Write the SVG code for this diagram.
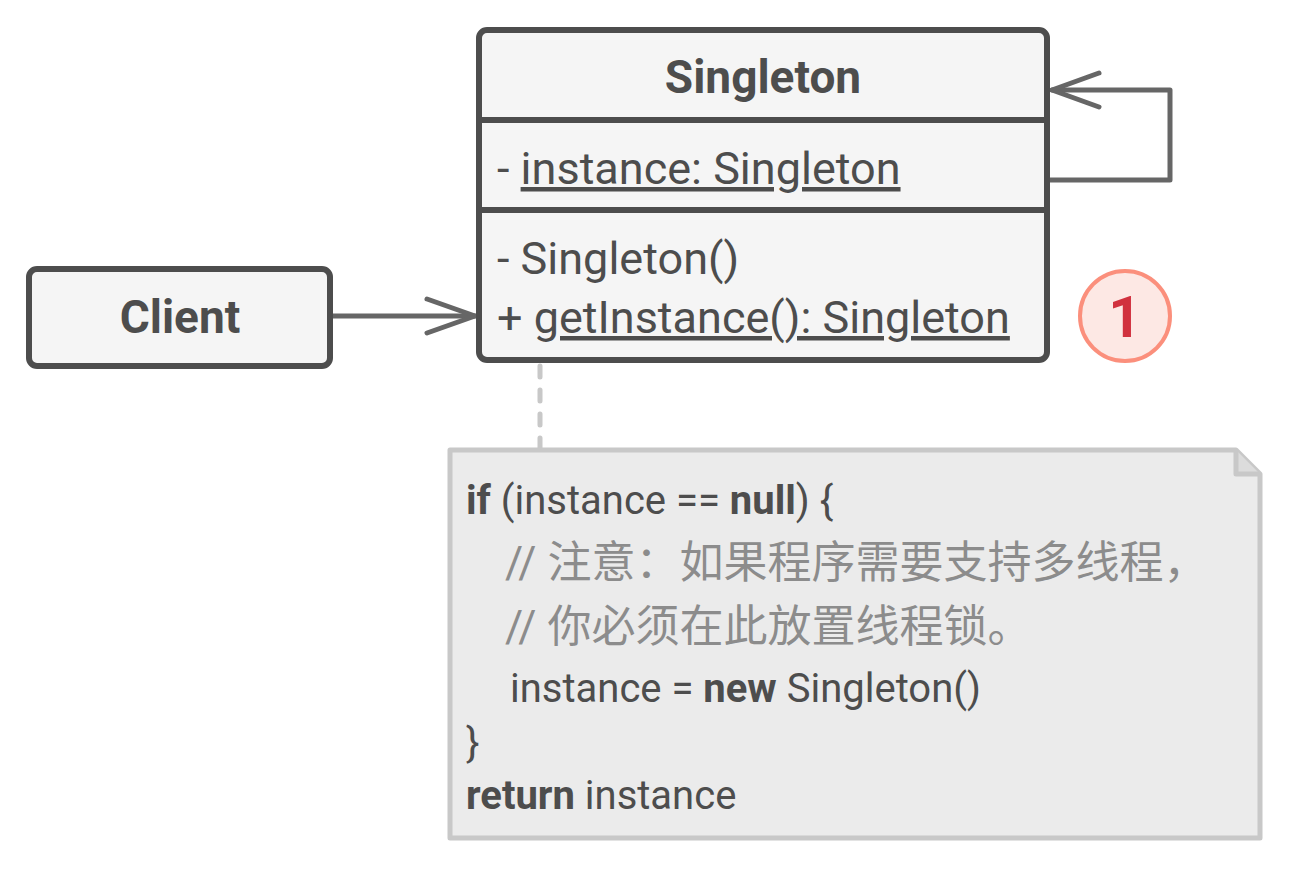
<svg xmlns="http://www.w3.org/2000/svg" width="1290" height="870" viewBox="0 0 1290 870">
<style>
.box{fill:#f5f5f5;stroke:#4d4d4d;stroke-width:6}
.sep{stroke:#4d4d4d;stroke-width:6}
.t{font-family:Roboto,"Liberation Sans","Noto Sans CJK SC",sans-serif;fill:#4d4d4d}
.b{font-weight:bold}
.c{fill:#8c8c8c}
.conn{fill:none;stroke:#666;stroke-width:5;stroke-linecap:round;stroke-linejoin:round}
</style>
<rect width="1290" height="870" fill="#fff"/>
<g id="connectors">
<path class="conn" d="M331,316 H475"/>
<path class="conn" d="M427,299 L475,316 L427,333"/>
<path class="conn" d="M1048,180 H1170 V90 H1052"/>
<path class="conn" d="M1099,73 L1052,90 L1099,107"/>
<path d="M540,366 V448" fill="none" stroke="#c8c8c8" stroke-width="5" stroke-linecap="round" stroke-dasharray="11 13"/>
</g>
<g id="client">
<rect class="box" x="29" y="269" width="301" height="97" rx="8"/>
<text class="t b" x="180" y="333" font-size="46" text-anchor="middle">Client</text>
</g>
<g id="singleton">
<rect class="box" x="479" y="30" width="568" height="330" rx="8"/>
<line class="sep" x1="479" y1="120" x2="1047" y2="120"/>
<line class="sep" x1="479" y1="210" x2="1047" y2="210"/>
<text class="t b" x="763" y="93" font-size="46" text-anchor="middle">Singleton</text>
<text class="t" x="497" y="184" font-size="45">- <tspan text-decoration="underline">instance: Singleton</tspan></text>
<text class="t" x="497" y="274" font-size="45">- Singleton()</text>
<text class="t" x="497" y="333" font-size="45">+ <tspan text-decoration="underline">getInstance(): Singleton</tspan></text>
</g>
<g id="badge">
<circle cx="1125" cy="316" r="45" fill="#fde8e4" stroke="#fb8f7c" stroke-width="4"/>
<text class="t b" x="1125" y="337" font-size="58" text-anchor="middle" style="fill:#d1313e">1</text>
</g>
<g id="note">
<path d="M450,450 H1236 L1260,474 V838 H450 Z" fill="#ebebeb" stroke="#c8c8c8" stroke-width="5" stroke-linejoin="round"/>
<path d="M1236,450 V474 H1260" fill="#dcdcdc" stroke="#c8c8c8" stroke-width="5" stroke-linejoin="round"/>
<text class="t" x="466" y="514" font-size="40"><tspan class="b">if</tspan> (instance == <tspan class="b">null</tspan>) {</text>
<text class="t c" x="505" y="578" font-size="44">// 注意：如果程序需要支持多线程，</text>
<text class="t c" x="505" y="642" font-size="44">// 你必须在此放置线程锁。</text>
<text class="t" x="510" y="702" font-size="40">instance = <tspan class="b">new</tspan> Singleton()</text>
<text class="t" x="466" y="756" font-size="40">}</text>
<text class="t" x="466" y="809" font-size="40"><tspan class="b">return</tspan> instance</text>
</g>
</svg>
